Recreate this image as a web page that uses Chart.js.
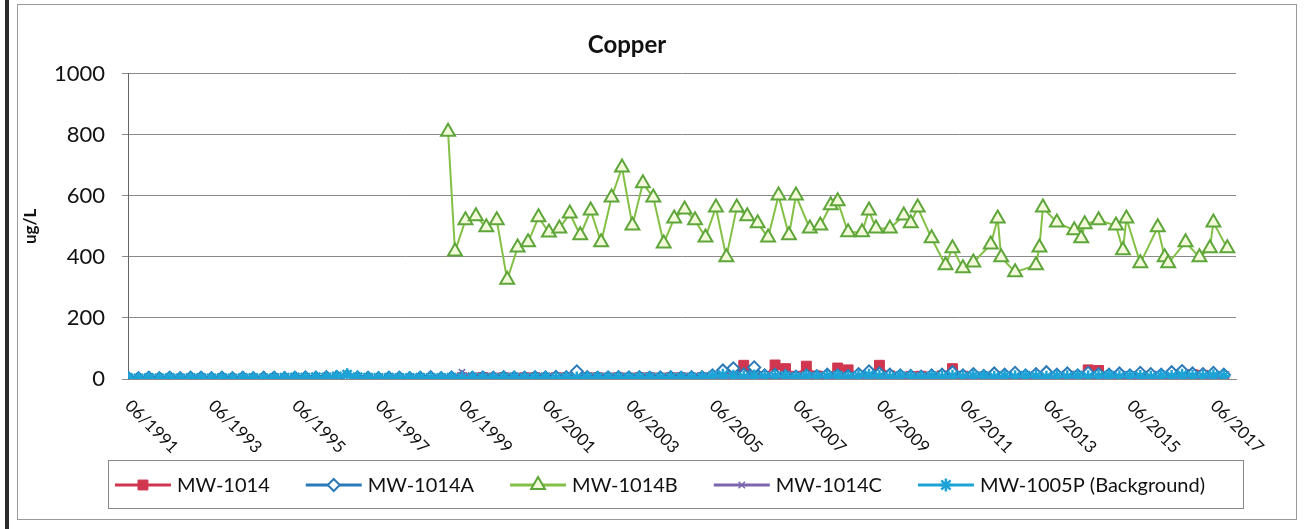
<!DOCTYPE html>
<html>
<head>
<meta charset="utf-8">
<title>Copper</title>
<script src="https://cdn.jsdelivr.net/npm/chart.js@4.4.1/dist/chart.umd.min.js"></script>
<style>
  html, body { margin: 0; padding: 0; background: #fff; }
  #barra { position: absolute; left: 5px; top: 0; width: 4px; height: 529px; background: #2b2b2b; }
  #moldura { position: absolute; left: 17px; top: 4px; width: 1278px; height: 514px; border: 1px solid #9a9a9a; }
  #moldura canvas { display: block; }
</style>
</head>
<body>
<div id="barra"></div>
<div id="moldura"><canvas id="chartCobre" width="1278" height="514"></canvas></div>
<script>
/* ============================================================
   Copper — concentrações (ug/L) por poço
   ============================================================ */
const FONTE = 'Lato, "DejaVu Sans", sans-serif';

const tickLabels = ['06/1991', '06/1993', '06/1995', '06/1997', '06/1999', '06/2001', '06/2003',
  '06/2005', '06/2007', '06/2009', '06/2011', '06/2013', '06/2015', '06/2017'];

const seriesNames = ['MW-1014', 'MW-1014A', 'MW-1014B', 'MW-1014C', 'MW-1005P (Background)'];

// coletas trimestrais (poços com valores baixos)
const sampleDates = [
  '1991-06', '1991-09', '1991-12',
  '1992-03', '1992-06', '1992-09', '1992-12',
  '1993-03', '1993-06', '1993-09', '1993-12',
  '1994-03', '1994-06', '1994-09', '1994-12',
  '1995-03', '1995-06', '1995-09', '1995-12',
  '1996-03', '1996-06', '1996-09', '1996-12',
  '1997-03', '1997-06', '1997-09', '1997-12',
  '1998-03', '1998-06', '1998-09', '1998-12',
  '1999-03', '1999-06', '1999-09', '1999-12',
  '2000-03', '2000-06', '2000-09', '2000-12',
  '2001-03', '2001-06', '2001-09', '2001-12',
  '2002-03', '2002-06', '2002-09', '2002-12',
  '2003-03', '2003-06', '2003-09', '2003-12',
  '2004-03', '2004-06', '2004-09', '2004-12',
  '2005-03', '2005-06', '2005-09', '2005-12',
  '2006-03', '2006-06', '2006-09', '2006-12',
  '2007-03', '2007-06', '2007-09', '2007-12',
  '2008-03', '2008-06', '2008-09', '2008-12',
  '2009-03', '2009-06', '2009-09', '2009-12',
  '2010-03', '2010-06', '2010-09', '2010-12',
  '2011-03', '2011-06', '2011-09', '2011-12',
  '2012-03', '2012-06', '2012-09', '2012-12',
  '2013-03', '2013-06', '2013-09', '2013-12',
  '2014-03', '2014-06', '2014-09', '2014-12',
  '2015-03', '2015-06', '2015-09', '2015-12',
  '2016-03', '2016-06', '2016-09', '2016-12',
  '2017-03', '2017-06', '2017-09'
];

const mw1014 = [
  null, null, null,
  null, null, null, null,
  null, null, null, null,
  null, null, null, null,
  null, null, null, null,
  null, null, null, null,
  null, null, null, null,
  null, null, null, null,
  null, 4, 3, 5,
  3, 4, 3, 4,
  4, 3, 4, 4,
  3, 4, 4, 3,
  4, 3, 4, 4,
  3, 4, 4, 3,
  4, 5, 10, 8,
  45, 12, 8, 46,
  34, 9, 42, 10,
  8, 36, 30, 9,
  8, 45, 10, 6,
  8, 9, 6, 10,
  34, 9, 8, 6,
  9, 8, 10, 6,
  8, 9, 6, 10,
  9, 30, 28, 8,
  9, 8, 10, 9,
  8, 10, 9, 14,
  12, 9, 8
];

const mw1014A = [
  4, 3, 4,
  3, 4, 3, 4,
  4, 3, 4, 3,
  4, 3, 4, 4,
  3, 4, 5, 4,
  6, 7, 10, 5,
  4, 3, 4, 4,
  3, 4, 6, 3,
  5, 6, 4, 5,
  4, 6, 5, 4,
  6, 5, 7, 6,
  25, 6, 4, 5,
  6, 5, 6, 4,
  5, 6, 4, 6,
  6, 12, 28, 35,
  15, 38, 12, 14,
  10, 8, 12, 9,
  14, 12, 10, 16,
  25, 18, 14, 12,
  10, 8, 12, 14,
  22, 12, 16, 10,
  18, 14, 20, 12,
  16, 22, 14, 18,
  12, 20, 16, 14,
  18, 12, 20, 16,
  14, 22, 26, 18,
  16, 20, 14
];

const mw1014C = [
  null, null, null,
  null, null, null, null,
  null, null, null, null,
  null, null, null, null,
  null, null, null, null,
  null, null, null, null,
  null, null, null, null,
  null, null, null, null,
  null, 22, 3, 2,
  2, 3, 2, 3,
  3, 2, 3, 2,
  2, 3, 3, 2,
  3, 2, 2, 3,
  2, 3, 2, 2,
  3, 2, 3, 4,
  3, 4, 3, 2,
  3, 2, 4, 3,
  2, 3, 3, 4,
  3, 2, 4, 3,
  2, 3, 2, 3,
  3, 4, 2, 3,
  2, 3, 3, 2,
  3, 2, 4, 3,
  2, 3, 2, 3,
  3, 2, 3, 2,
  2, 3, 4, 3,
  3, 2, 3
];

const mw1005P = [
  3, 2, 3,
  2, 3, 2, 3,
  3, 2, 3, 2,
  3, 3, 2, 3,
  4, 5, 4, 6,
  5, 8, 14, 6,
  4, 3, 4, 3,
  3, 4, 3, 3,
  4, 3, 5, 4,
  3, 4, 5, 3,
  4, 5, 3, 4,
  3, 4, 5, 4,
  4, 3, 4, 5,
  3, 4, 5, 4,
  5, 8, 12, 9,
  6, 10, 7, 8,
  9, 6, 8, 7,
  8, 10, 6, 9,
  12, 8, 6, 9,
  7, 5, 8, 6,
  9, 7, 10, 8,
  6, 9, 7, 10,
  8, 6, 9, 7,
  10, 7, 8, 11,
  7, 9, 8, 6,
  10, 8, 12, 9,
  8, 11, 9
];

// MW-1014B tem datas próprias
const dates1014B = [
  '1999-02', '1999-04', '1999-07', '1999-10', '2000-01', '2000-04', '2000-07', '2000-10',
  '2001-01', '2001-04', '2001-07', '2001-10', '2002-01', '2002-04', '2002-07', '2002-10',
  '2003-01', '2003-04', '2003-07', '2003-10', '2004-01', '2004-04', '2004-07', '2004-10',
  '2005-01', '2005-04', '2005-07', '2005-10', '2006-01', '2006-04', '2006-07', '2006-10',
  '2007-01', '2007-04', '2007-06', '2007-10', '2008-01', '2008-04', '2008-06', '2008-09',
  '2009-01', '2009-03', '2009-05', '2009-09', '2010-01', '2010-03', '2010-05', '2010-09',
  '2011-01', '2011-03', '2011-06', '2011-09', '2012-02', '2012-04', '2012-05', '2012-09',
  '2013-03', '2013-04', '2013-05', '2013-09', '2014-02', '2014-04', '2014-05', '2014-09',
  '2015-02', '2015-04', '2015-05', '2015-09', '2016-02', '2016-04', '2016-05', '2016-10',
  '2017-02', '2017-05', '2017-06', '2017-10'
];
const mw1014B = [
  810, 418, 520, 533, 497, 520, 325, 431,
  448, 530, 480, 493, 542, 471, 552, 448,
  595, 693, 503, 641, 595, 444, 526, 555,
  520, 464, 562, 399, 562, 533, 510, 464,
  601, 471, 601, 493, 503, 569, 582, 481,
  481, 552, 493, 493, 536, 510, 562, 461,
  373, 428, 363, 382, 441, 526, 399, 350,
  373, 431, 562, 513, 487, 461, 507, 520,
  503, 422, 526, 379, 497, 399, 379, 448,
  399, 428, 513, 428
];

// 'YYYY-MM' ou 'MM/YYYY' -> ano decimal (meio do mês)
function toYear(s) {
  let y, m;
  if (s.includes('/')) { [m, y] = s.split('/').map(Number); }
  else { [y, m] = s.split('-').map(Number); }
  return y + (m - 0.5) / 12;
}
const pts = (datas, vals) => datas.map((d, i) => ({ x: toYear(d), y: vals[i] }));

const VERMELHO = '#D0364F';
const AZUL = '#2A79B8';
const VERDE = '#84C046';
const VERDE_MARCA = '#5EA53A';
const VERDE_FUNDO = '#F3FADA';
const ROXO = '#7A66AC';
const CIANO = '#1EA3D7';

const estilos = [
  { cor: VERMELHO, ponto: 'rect', r: 7, fundo: VERMELHO, borda: VERMELHO, bw: 1 },
  { cor: AZUL, ponto: 'rectRot', r: 6, fundo: '#ffffff', borda: AZUL, bw: 2 },
  { cor: VERDE, ponto: 'triangle', r: 8, fundo: VERDE_FUNDO, borda: VERDE_MARCA, bw: 2 },
  { cor: ROXO, ponto: 'crossRot', r: 4.5, fundo: ROXO, borda: ROXO, bw: 1.5 },
  { cor: CIANO, ponto: 'star', r: 6.5, fundo: CIANO, borda: CIANO, bw: 2.5 }
];

function conjunto(i, dados, ordem) {
  const e = estilos[i];
  return {
    label: seriesNames[i], data: dados, order: ordem,
    borderColor: e.cor, backgroundColor: e.fundo, borderWidth: i === 4 ? 3 : 2,
    pointStyle: e.ponto, pointRadius: e.r, pointBackgroundColor: e.fundo,
    pointBorderColor: e.borda, pointBorderWidth: e.bw, tension: 0
  };
}

// desenha marcadores da legenda
function marca(ctx, e, x, y) {
  const r = e.r;
  ctx.save();
  ctx.lineWidth = e.bw; ctx.strokeStyle = e.borda; ctx.fillStyle = e.fundo;
  ctx.beginPath();
  if (e.ponto === 'rect') {
    const s = r * Math.SQRT1_2;
    ctx.rect(x - s, y - s, 2 * s, 2 * s); ctx.fill(); ctx.stroke();
  } else if (e.ponto === 'rectRot') {
    ctx.moveTo(x, y - r); ctx.lineTo(x + r, y); ctx.lineTo(x, y + r); ctx.lineTo(x - r, y);
    ctx.closePath(); ctx.fill(); ctx.stroke();
  } else if (e.ponto === 'triangle') {
    const a = Math.PI * 2 / 3;
    for (let k = 0; k < 3; k++) {
      const px = x + Math.sin(k * a) * r, py = y - Math.cos(k * a) * r;
      k ? ctx.lineTo(px, py) : ctx.moveTo(px, py);
    }
    ctx.closePath(); ctx.fill(); ctx.stroke();
  } else {
    const s = r * Math.SQRT1_2;
    ctx.moveTo(x - s, y - s); ctx.lineTo(x + s, y + s);
    ctx.moveTo(x + s, y - s); ctx.lineTo(x - s, y + s);
    if (e.ponto === 'star') {
      ctx.moveTo(x - r, y); ctx.lineTo(x + r, y);
      ctx.moveTo(x, y - r); ctx.lineTo(x, y + r);
    }
    ctx.stroke();
  }
  ctx.restore();
}

const legendaCaixa = {
  id: 'legendaCaixa',
  afterDraw(chart) {
    const ctx = chart.ctx;
    ctx.save();
    ctx.font = '20px ' + FONTE;
    const sw = 56, gT = 6, gI = 36;
    const larg = seriesNames.map(n => sw + gT + ctx.measureText(n).width);
    const total = larg.reduce((a, b) => a + b, 0) + gI * (larg.length - 1);
    let x = chart.width / 2 + 3 - total / 2;
    const cy = chart.scales.x.bottom - 34;
    ctx.strokeStyle = '#8a8a8a'; ctx.lineWidth = 1;
    ctx.strokeRect(Math.round(x - 7) + 0.5, Math.round(cy - 25) + 0.5, Math.round(total + 45), 48);
    seriesNames.forEach((n, i) => {
      const e = estilos[i];
      ctx.strokeStyle = e.cor; ctx.lineWidth = 3;
      ctx.beginPath(); ctx.moveTo(x, cy); ctx.lineTo(x + sw, cy); ctx.stroke();
      marca(ctx, e, x + sw / 2, cy);
      ctx.fillStyle = '#111'; ctx.textAlign = 'left'; ctx.textBaseline = 'middle';
      ctx.fillText(n, x + sw + gT, cy + 1);
      x += larg[i] + gI;
    });
    ctx.restore();
  }
};

// rótulos do eixo X inclinados para baixo (45°)
const rotulosX = {
  id: 'rotulosX',
  afterDraw(chart) {
    const sx = chart.scales.x, ctx = chart.ctx;
    ctx.save();
    ctx.font = '17px ' + FONTE; ctx.fillStyle = '#111';
    ctx.textAlign = 'left'; ctx.textBaseline = 'middle';
    tickLabels.forEach(t => {
      const px = sx.getPixelForValue(toYear(t));
      ctx.save();
      ctx.translate(px, sx.top + 24);
      ctx.rotate(Math.PI / 4);
      ctx.fillText(t, 0, 0);
      ctx.restore();
    });
    ctx.restore();
  }
};

const ctx = document.getElementById('chartCobre').getContext('2d');
new Chart(ctx, {
  type: 'line',
  data: {
    datasets: [
      conjunto(0, pts(sampleDates, mw1014), 5),
      conjunto(1, pts(sampleDates, mw1014A), 4),
      conjunto(2, pts(dates1014B, mw1014B), 3),
      conjunto(3, pts(sampleDates, mw1014C), 2),
      conjunto(4, pts(sampleDates, mw1005P), 1)
    ]
  },
  options: {
    responsive: false,
    animation: false,
    layout: { padding: { left: 0, right: 60, top: 0, bottom: 0 } },
    plugins: {
      legend: { display: false },
      tooltip: { enabled: false },
      title: {
        display: true, text: 'Copper', color: '#111',
        font: { family: FONTE, size: 24, weight: 'bold' },
        padding: { top: 26, bottom: 14 }
      }
    },
    scales: {
      x: {
        type: 'linear',
        min: toYear(tickLabels[0]), max: 2018.0,
        grid: { display: false },
        border: { display: true, color: '#8a8a8a' },
        ticks: { display: false },
        afterBuildTicks(s) { s.ticks = tickLabels.map(t => ({ value: toYear(t) })); },
        afterFit(s) { s.height = 140; }
      },
      y: {
        min: 0, max: 1000,
        ticks: {
          stepSize: 200, color: '#111', padding: 17, font: { family: FONTE, size: 22 },
          callback: v => String(v)
        },
        grid: { color: '#8a8a8a', tickLength: 6 },
        border: { display: true, color: '#666' },
        title: {
          display: true, text: 'ug/L', color: '#111',
          font: { family: FONTE, size: 17, weight: 'bold' }, padding: { top: 2, bottom: 0 }
        },
        afterFit(s) { s.width = 110; }
      }
    }
  },
  plugins: [rotulosX, legendaCaixa]
});
</script>
</body>
</html>
